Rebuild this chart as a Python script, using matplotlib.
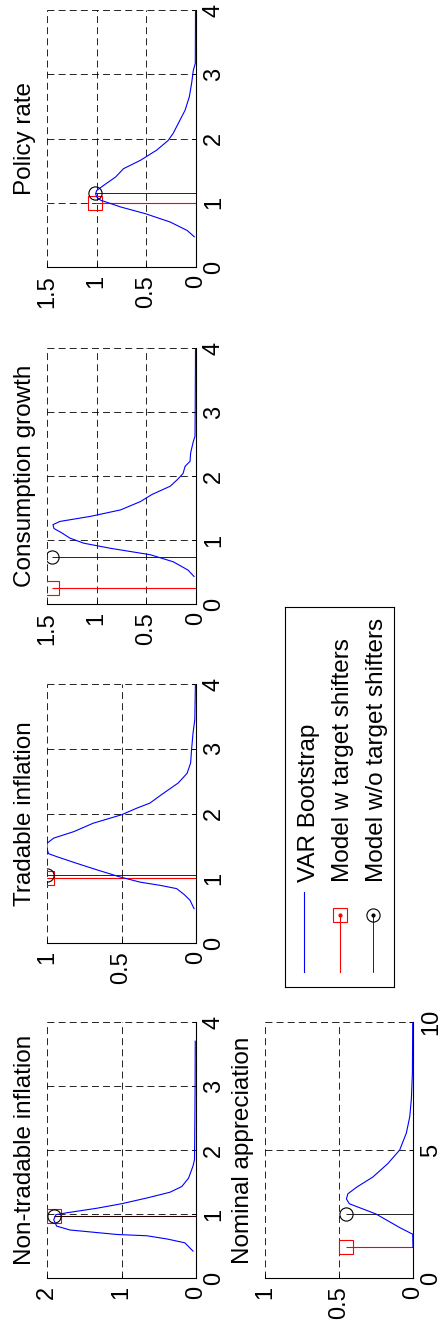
import numpy as np
import matplotlib
matplotlib.use("Agg")
import matplotlib.pyplot as plt
from matplotlib.ticker import FixedLocator, FormatStrFormatter

plt.rcParams['font.family'] = ['Liberation Sans', 'DejaVu Sans']
plt.rcParams['lines.scale_dashes'] = False

W, H = 446, 1327
FS = 17
FS_T = 17.5
BLUE = "#0000FF"
RED = "#FF0000"

# ── data (variable value, density) ──
nt_x = [0.42, 0.55, 0.61, 0.66, 0.68, 0.75, 0.81, 0.91, 0.99, 1.02, 1.09, 1.16,
        1.25, 1.34, 1.43, 1.56, 1.75, 1.85, 2.5, 3.0, 3.7]
nt_d = [0.04, 0.15, 0.39, 0.66, 1.06, 1.69, 1.87, 1.91, 1.88, 1.73, 1.33, 1.00,
        0.66, 0.35, 0.19, 0.10, 0.04, 0.02, 0.015, 0.012, 0.01]
nt_w = (0.97, 1.91)
nt_wo = (0.97, 1.90)

tr_x = [0.53, 0.66, 0.75, 0.84, 0.89, 0.94, 1.02, 1.13, 1.23, 1.33, 1.38, 1.46,
        1.54, 1.62, 1.72, 1.85, 1.98, 2.08, 2.16, 2.31, 2.47, 2.62, 2.78, 2.98,
        3.24, 3.45, 4.0]
tr_d = [0.013, 0.04, 0.08, 0.13, 0.24, 0.375, 0.51, 0.665, 0.80, 0.93, 0.99, 1.0,
        1.0, 0.955, 0.82, 0.69, 0.50, 0.40, 0.31, 0.22, 0.12, 0.06, 0.036, 0.03,
        0.02, 0.008, 0.004]
tr_w = (1.0, 1.0)
tr_wo = (1.05, 1.0)

cg_x = [0.43, 0.53, 0.66, 0.77, 0.87, 0.95, 1.03, 1.11, 1.18, 1.24, 1.29, 1.37,
        1.47, 1.60, 1.71, 1.84, 1.94, 2.04, 2.15, 2.23, 2.36, 2.54, 2.62, 3.0, 4.0]
cg_d = [0.02, 0.08, 0.23, 0.46, 0.86, 1.13, 1.27, 1.35, 1.43, 1.44, 1.37, 1.06,
        0.76, 0.56, 0.445, 0.26, 0.19, 0.13, 0.11, 0.06, 0.054, 0.027, 0.01,
        0.008, 0.005]
cg_w = (0.245, 1.45)
cg_wo = (0.74, 1.45)

pr_x = [0.47, 0.57, 0.70, 0.83, 0.935, 1.04, 1.09, 1.14, 1.19, 1.27, 1.40, 1.53,
        1.66, 1.82, 1.97, 2.08, 2.23, 2.44, 2.65, 2.86, 3.06, 3.17, 4.0]
pr_d = [0.017, 0.09, 0.26, 0.51, 0.76, 0.96, 1.0, 1.01, 1.0, 0.93, 0.81, 0.73,
        0.56, 0.395, 0.28, 0.23, 0.18, 0.11, 0.067, 0.044, 0.027, 0.007, 0.005]
pr_w = (1.0, 1.02)
pr_wo = (1.15, 1.02)

na_x = [1.2, 1.71, 1.97, 2.5, 2.9, 3.09, 3.29, 3.55, 3.95, 4.47, 5.0, 5.66, 6.3,
        7.0, 8.0, 10.0]
na_d = [0.0, 0.002, 0.09, 0.25, 0.43, 0.45, 0.44, 0.38, 0.27, 0.17, 0.09, 0.045,
        0.022, 0.011, 0.004, 0.002]
na_w = (1.2, 0.454)
na_wo = (2.5, 0.45)

legend_labels = ["VAR Bootstrap", "Model w target shifters", "Model w/o target shifters"]


def pos(x0, y0, x1, y1):
    return [x0 / W, 1 - y1 / H, (x1 - x0) / W, (y1 - y0) / H]


# title, x, d, w, wo, dmax, dticks, xmax, xticks, pixel box
panels = [
    ("Non-tradable inflation", nt_x, nt_d, nt_w, nt_wo, 2, [0, 1, 2], 4, [0, 1, 2, 3, 4], (47, 1022, 196, 1278)),
    ("Tradable inflation", tr_x, tr_d, tr_w, tr_wo, 1, [0, 0.5, 1], 4, [0, 1, 2, 3, 4], (47, 684, 196, 943)),
    ("Consumption growth", cg_x, cg_d, cg_w, cg_wo, 1.5, [0, 0.5, 1, 1.5], 4, [0, 1, 2, 3, 4], (47, 348, 196, 604)),
    ("Policy rate", pr_x, pr_d, pr_w, pr_wo, 1.5, [0, 0.5, 1, 1.5], 4, [0, 1, 2, 3, 4], (47, 10, 196, 267)),
    ("Nominal appreciation", na_x, na_d, na_w, na_wo, 1, [0, 0.5, 1], 10, [0, 5, 10], (265, 1022, 413, 1278)),
]

fig = plt.figure(figsize=(W / 100, H / 100), dpi=100)
fig.patch.set_facecolor("white")

for title, xs, ds, w, wo, dmax, dticks, xmax, xticks, box in panels:
    ax = fig.add_axes(pos(*box))
    ax.plot(ds, xs, color=BLUE, lw=0.8, zorder=3)

    for (sx, sd), col, mk, slw in [(w, RED, "s", 0.8), (wo, "k", "o", 0.6)]:
        st = ax.stem([sx], [sd], linefmt="-", markerfmt=mk, basefmt=" ",
                     orientation="horizontal")
        st.stemlines.set_color(col)
        st.stemlines.set_linewidth(slw)
        st.markerline.set_color(col)
        st.markerline.set_markerfacecolor("none")
        st.markerline.set_markersize(9.5)
        st.markerline.set_markeredgewidth(0.8)
        st.baseline.set_visible(False)

    ax.set_xlim(dmax, 0)
    ax.set_ylim(0, xmax)
    ax.xaxis.set_major_locator(FixedLocator(dticks))
    ax.yaxis.set_major_locator(FixedLocator(xticks))
    ax.xaxis.set_major_formatter(FormatStrFormatter("%g"))
    ax.yaxis.set_major_formatter(FormatStrFormatter("%g"))
    ax.yaxis.tick_right()
    ax.tick_params(axis="x", direction="in", length=3, width=0.7, pad=6,
                   labelsize=FS, labelrotation=90)
    ax.tick_params(axis="y", direction="in", length=3, width=0.7, pad=5,
                   labelsize=FS, labelrotation=90)
    for lab in ax.get_yticklabels():
        lab.set_va("center")
    ax.grid(True, color="k", lw=0.6, linestyle=(0, (5, 3)))
    ax.set_axisbelow(True)
    for s in ["left", "top"]:
        ax.spines[s].set_visible(False)
    for s in ["right", "bottom"]:
        ax.spines[s].set_linewidth(0.8)

    ax.annotate(title, xy=(0, 0.5), xycoords="axes fraction", xytext=(-11.5, 0),
                textcoords="offset points", rotation=90, rotation_mode="anchor",
                ha="center", va="baseline", fontsize=FS_T)

# ── legend drawn by hand (rotated) ──
lg = fig.add_axes(pos(285, 607, 394, 987))
lg.set_xlim(285, 394)
lg.set_ylim(987, 607)
lg.set_xticks([])
lg.set_yticks([])
for s in lg.spines.values():
    s.set_linewidth(0.8)
    s.set_edgecolor("k")

lg.plot([304, 304], [892, 972], color=BLUE, lw=0.8)
lg.plot([340, 340], [915, 972], color=RED, lw=0.8)
lg.plot([340], [915], marker="s", ms=9.5, mfc="none", mec=RED, mew=0.8)
lg.plot([340], [915], marker=".", ms=4, color=RED)
lg.plot([373, 373], [915, 972], color="k", lw=0.6)
lg.plot([373], [915], marker="o", ms=9.5, mfc="none", mec="k", mew=0.8)
lg.plot([373], [915], marker=".", ms=4, color="k")

for bx, lab in zip([315, 349.5, 383.5], legend_labels):
    lg.text(bx, 882, lab, rotation=90, rotation_mode="anchor", ha="left",
            va="baseline", fontsize=FS_T)

fig.savefig("out.png", dpi=100, facecolor="white")
